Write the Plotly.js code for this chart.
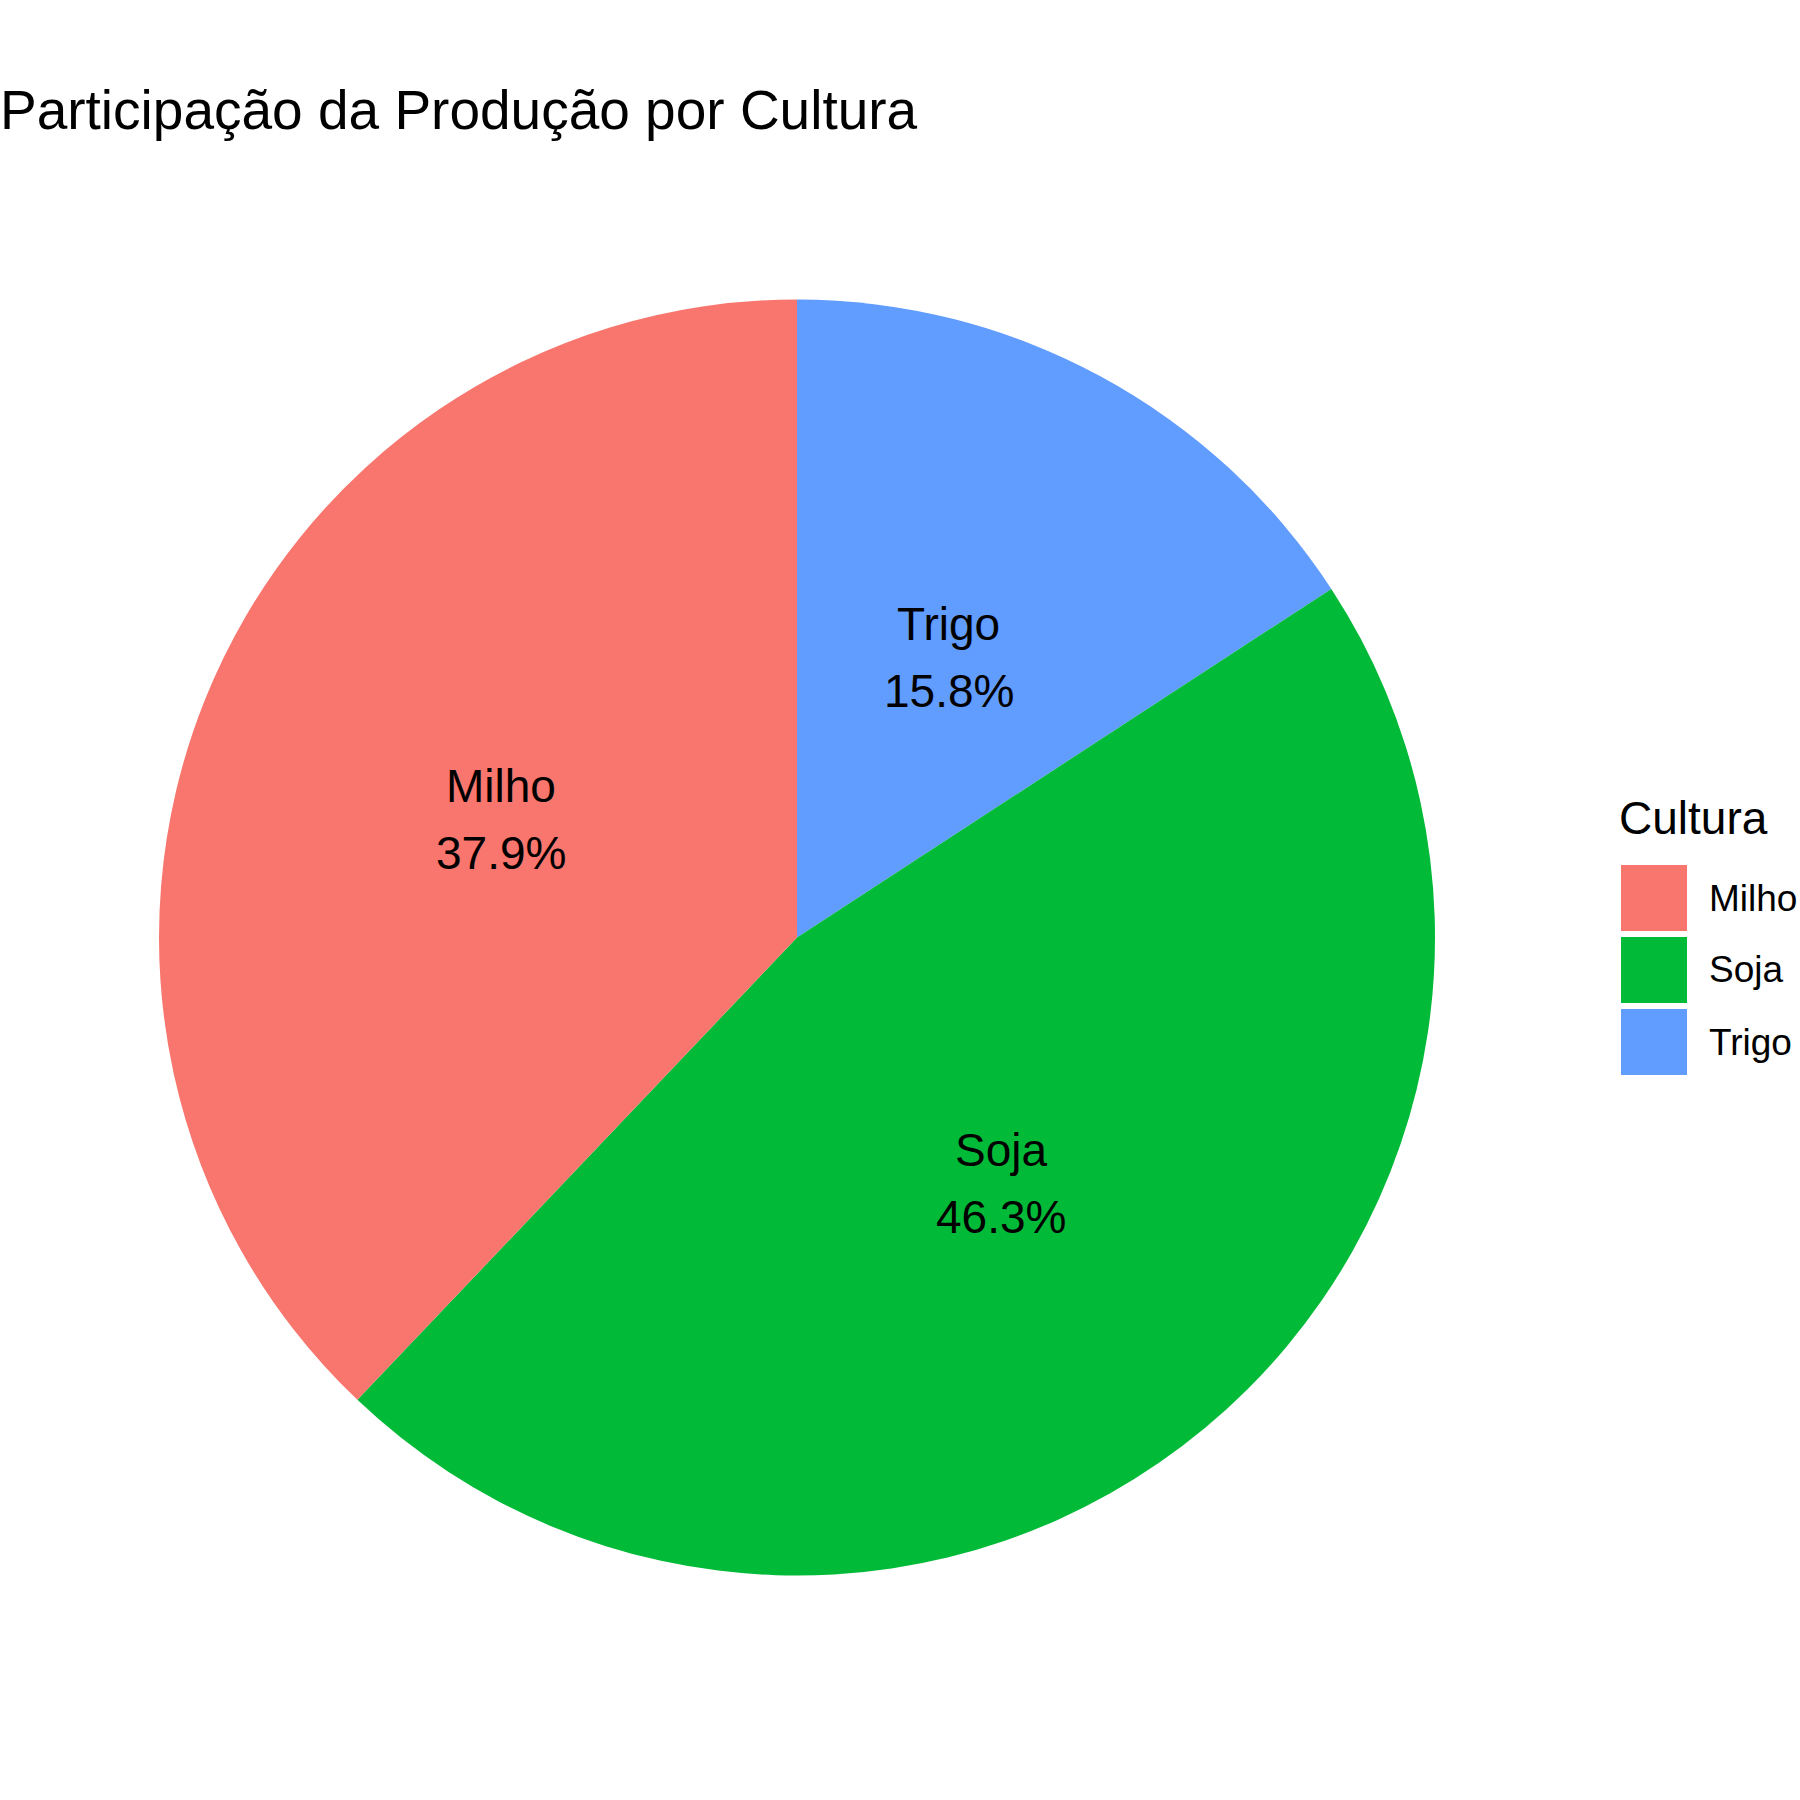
<!DOCTYPE html>
<html>
<head>
<meta charset="utf-8">
<script src="https://cdn.plot.ly/plotly-3.0.1.min.js"></script>
<style>
  html, body { margin: 0; padding: 0; background: #fff; }
  #chart { width: 1800px; height: 1800px; }
</style>
</head>
<body>
<div id="chart"></div>
<script>
/* data */
const culturas = ["Milho", "Soja", "Trigo"];
const participacao = [37.9, 46.3, 15.8];
const cores = ["#F8766D", "#00BA38", "#619CFF"];

/* page geometry (pixels) */
const W = 1800, H = 1800;
const M = { l: 159, r: 365, t: 299, b: 224 };
const PW = W - M.l - M.r, PH = H - M.t - M.b;
const px = x => (x - M.l) / PW;
const py = y => 1 - (y - M.t) / PH;
const FONT = "Liberation Sans, Arial, Helvetica, sans-serif";

const total = participacao.reduce((a, b) => a + b, 0);

// slice labels at half radius on the bisector (like geom_text in coord_polar)
// slices run counterclockwise from 12 o'clock in legend order
const annotations = [];
let acc = 0;
culturas.forEach((c, i) => {
  const th = (acc + participacao[i] / 2) / total * 2 * Math.PI;
  acc += participacao[i];
  const x = 0.5 - 0.25 * Math.sin(th);
  const y = 0.5 + 0.25 * Math.cos(th);
  const pct = (participacao[i] / total * 100).toFixed(1) + "%";
  [[c, 33], [pct, -34]].forEach(([t, dy]) => {
    annotations.push({
      text: t, x: x, y: y, xref: "paper", yref: "paper",
      xanchor: "center", yanchor: "middle", yshift: dy, showarrow: false,
      font: { family: FONT, size: 46, color: "#000" }
    });
  });
});

// legend drawn by hand so the keys get ggplot-sized squares
const shapes = [];
annotations.push({
  text: "Cultura", x: px(1617), y: py(818), xref: "paper", yref: "paper",
  xanchor: "left", yanchor: "middle", showarrow: false,
  font: { family: FONT, size: 46, color: "#000" }
});
culturas.forEach((c, i) => {
  const top = 865 + i * 72;
  shapes.push({
    type: "rect", xref: "paper", yref: "paper", layer: "above",
    x0: px(1621), x1: px(1687), y0: py(top + 66), y1: py(top),
    fillcolor: cores[i], line: { width: 0 }
  });
  annotations.push({
    text: c, x: px(1707), y: py(top + 33), xref: "paper", yref: "paper",
    xanchor: "left", yanchor: "middle", showarrow: false,
    font: { family: FONT, size: 37, color: "#000" }
  });
});

// clockwise from 12 o'clock with the order reversed == counterclockwise in legend order
const trace = {
  type: "pie",
  labels: culturas.slice().reverse(),
  values: participacao.slice().reverse(),
  sort: false,
  direction: "clockwise",
  rotation: 0,
  marker: { colors: cores.slice().reverse(), line: { width: 0 } },
  textinfo: "none",
  hoverinfo: "skip",
  showlegend: false
};

const layout = {
  width: W,
  height: H,
  margin: M,
  paper_bgcolor: "#fff",
  plot_bgcolor: "#fff",
  font: { family: FONT, color: "#000" },
  title: {
    text: "Participação da Produção por Cultura",
    x: 0, xref: "container", xanchor: "left",
    y: 1 - 110 / H, yref: "container", yanchor: "middle",
    font: { family: FONT, size: 55, color: "#000" }
  },
  showlegend: false,
  annotations: annotations,
  shapes: shapes
};

Plotly.newPlot("chart", [trace], layout, { displayModeBar: false, staticPlot: true });
</script>
</body>
</html>
